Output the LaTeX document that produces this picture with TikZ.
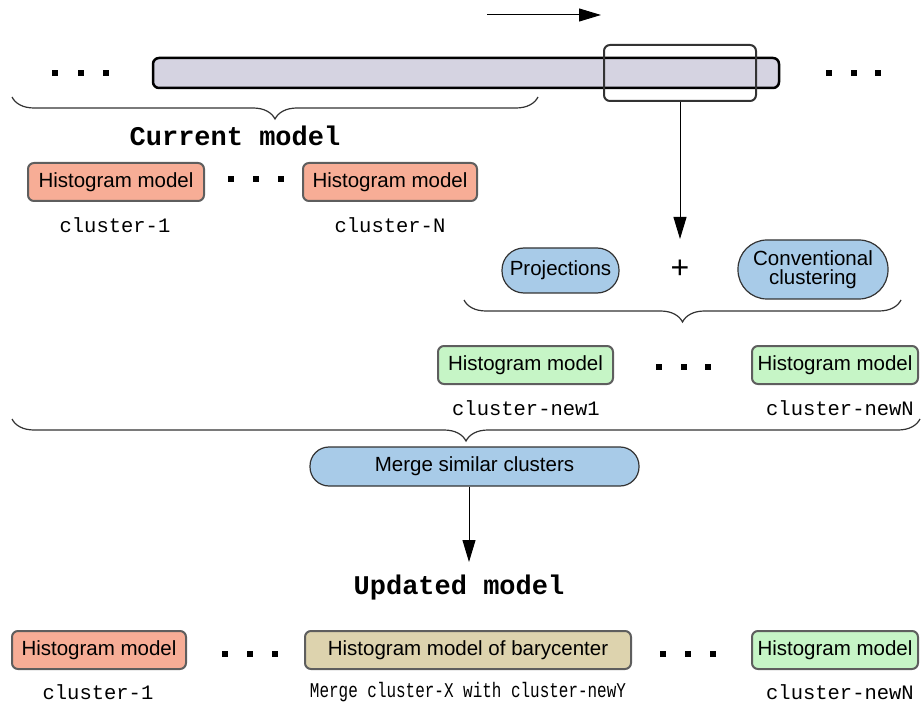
\documentclass[tikz,border=0pt]{standalone}
\usepackage{fontspec}
\setmainfont{Liberation Sans}
\setmonofont{Liberation Mono}
\newfontfamily\condmono[FakeStretch=0.76]{Liberation Mono}
\usetikzlibrary{arrows.meta,decorations.pathreplacing}
\definecolor{barfill}{HTML}{D5D3E1}
\definecolor{salmon}{HTML}{F7AD96}
\definecolor{pblue}{HTML}{A8CBE8}
\definecolor{pgreen}{HTML}{C6F5C6}
\definecolor{ptan}{HTML}{DDD3AE}
\definecolor{boxline}{HTML}{5E5E5E}
\definecolor{darkline}{HTML}{333333}
\tikzset{
  hbox/.style={draw=boxline, line width=2pt, rounded corners=6pt, minimum height=38pt, inner sep=0pt, font=\fontsize{20.5}{24}\selectfont},
  pill/.style={draw=darkline, line width=1.2pt, fill=pblue, inner sep=0pt, font=\fontsize{20.5}{19.5}\selectfont, align=center},
  clabel/.style={font=\ttfamily\fontsize{20.5}{24}\selectfont, inner sep=0pt},
  title/.style={font=\ttfamily\bfseries\fontsize{27}{30}\selectfont, inner sep=0pt},
  brc/.style={draw=darkline, line width=1.2pt, decorate, decoration={brace, amplitude=22pt}},
  arr/.style={-{Triangle[length=22pt,width=13pt]}, line width=1pt},
  dotsq/.style={fill=black, minimum size=6pt, inner sep=0pt}
}
\begin{document}
\begin{tikzpicture}[x=1pt,y=-1pt]
\useasboundingbox (0,0) rectangle (921,703);
% top arrow
\coordinate (ta) at (487,15);
\coordinate (tb) at (601,15);
\draw[arr] (ta) -- (tb);
% dots top
\foreach \x/\n in {55/a,81/b,106/c} \node[dotsq] (dl\n) at (\x,73) {};
\foreach \x/\n in {829/a,854/b,878/c} \node[dotsq] (dr\n) at (\x,73) {};
% bar
\node[draw=black, line width=2.5pt, fill=barfill, rounded corners=6pt, minimum width=626pt, minimum height=30pt, inner sep=0pt] (bar) at (466,73) {};
\node[draw=darkline, line width=2pt, rounded corners=6pt, minimum width=152pt, minimum height=56pt, inner sep=0pt] (win) at (680,73) {};
\coordinate (arrend) at (680,239);
\draw[arr] (win.south) -- (arrend);
% brace 1
\coordinate (b1r) at (538,97);
\coordinate (b1l) at (12,97);
\draw[brc] (b1r) -- (b1l);
\node[title] (cur) at (235,136) {Current model};
% current model boxes
\node[hbox, fill=salmon, minimum width=176pt] (h1) at (116,182) {Histogram model};
\node[hbox, fill=salmon, minimum width=174pt] (h2) at (390,182) {Histogram model};
\foreach \x/\n in {231/a,256/b,281/c} \node[dotsq] (dm\n) at (\x,179) {};
\node[clabel] (c1) at (115,225) {cluster-1};
\node[clabel] (cN) at (390,225) {cluster-N};
% projections
\node[pill, minimum width=117pt, minimum height=45pt, rounded corners=22pt] (proj) at (560.5,270.5) {Projections};
\node[font=\fontsize{32}{34}\selectfont, inner sep=0pt] (plus) at (680,269) {+};
\node[pill, minimum width=150pt, minimum height=59pt, rounded corners=29pt] (conv) at (813,269.5) {Conventional\\clustering};
% brace 2
\coordinate (b2r) at (901,300);
\coordinate (b2l) at (464,300);
\draw[brc] (b2r) -- (b2l);
% new clusters
\node[hbox, fill=pgreen, minimum width=175pt] (g1) at (525.5,365) {Histogram model};
\node[hbox, fill=pgreen, minimum width=166pt] (g2) at (835,365) {Histogram model};
\foreach \x/\n in {659/a,684/b,708/c} \node[dotsq] (dg\n) at (\x,367) {};
\node[clabel] (cn1) at (526,408) {cluster-new1};
\node[clabel] (cnN) at (840,408) {cluster-newN};
% brace 3
\coordinate (b3r) at (920,419);
\coordinate (b3l) at (12,419);
\draw[brc] (b3r) -- (b3l);
% merge
\node[pill, minimum width=329pt, minimum height=39pt, rounded corners=19pt] (merge) at (474.5,466.5) {Merge similar clusters};
\coordinate (marr) at (469,562);
\draw[arr] (merge.south -| marr) -- (marr);
\node[title] (upd) at (459,588) {Updated model};
% bottom row
\node[hbox, fill=salmon, minimum width=174pt] (bs) at (99,650) {Histogram model};
\node[hbox, fill=ptan, minimum width=326pt] (bt) at (468,650) {Histogram model of barycenter};
\node[hbox, fill=pgreen, minimum width=166pt] (bg) at (835,650) {Histogram model};
\foreach \x/\n in {225/a,250/b,275/c} \node[dotsq] (db\n) at (\x,654) {};
\foreach \x/\n in {663/a,688/b,713/c} \node[dotsq] (dc\n) at (\x,654) {};
\node[clabel] (bc1) at (98,692) {cluster-1};
\node[font=\condmono\fontsize{21}{24}\selectfont, inner sep=0pt] (bmg) at (468,692) {Merge cluster-X with cluster-newY};
\node[clabel] (bcN) at (840,692) {cluster-newN};
\end{tikzpicture}
\end{document}
